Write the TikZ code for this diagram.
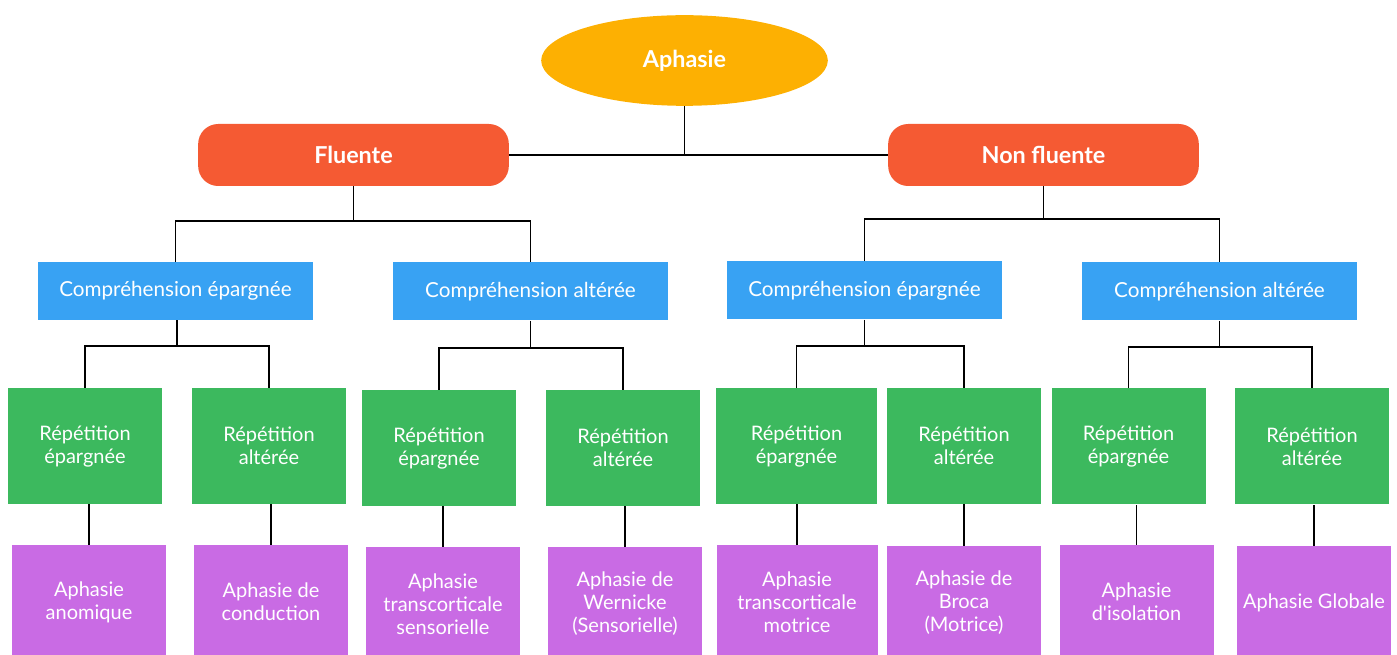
\documentclass[tikz,border=0pt]{standalone}
\usepackage{fontspec}
\setmainfont{Lato}[Ligatures=TeXOff]
\definecolor{aphcol}{HTML}{FDB002}
\definecolor{flucol}{HTML}{F55A33}
\definecolor{compcol}{HTML}{38A2F3}
\definecolor{repcol}{HTML}{3CB95E}
\definecolor{typcol}{HTML}{C96BE4}
\usetikzlibrary{shapes.geometric}
\tikzset{
	root/.style={ellipse, fill=aphcol, text=white, font=\bfseries\fontsize{17.5}{20}\selectfont, minimum width=215pt, minimum height=68pt},
	branch/.style={rounded corners=15pt, fill=flucol, text=white, font=\bfseries\fontsize{17.5}{20}\selectfont, minimum width=233pt, minimum height=46.5pt},
	comp/.style={fill=compcol, text=white, font=\fontsize{15.5}{18}\selectfont, minimum width=206pt, minimum height=43.5pt},
	rep/.style={fill=repcol, text=white, font=\fontsize{15}{17.25}\selectfont, align=center, minimum width=115.5pt, minimum height=87pt},
	typ/.style={fill=typcol, text=white, font=\fontsize{15}{17.25}\selectfont, align=center, minimum width=115.5pt, minimum height=85.5pt},
	link/.style={black, line width=1.4pt}
}
\begin{document}
\begin{tikzpicture}[x=0.75pt, y=-0.75pt, inner sep=0pt]
		\useasboundingbox (0,0) rectangle (1397,655);
		\node[root] at (684.5, 60.5) (aph) {Aphasie};
		\node[branch] at (353.5, 155) (flu) {Fluente};
		\node[branch] at (1043.5, 155) (nflu) {Non fluente};
		\node[comp] at (175.5, 291) (ce1) {Compréhension épargnée};
		\node[comp] at (530.5, 291.5) (ca1) {Compréhension altérée};
		\node[comp] at (864.5, 290.5) (ce2) {Compréhension épargnée};
		\node[comp] at (1219.5, 291.5) (ca2) {Compréhension altérée};
		\node[rep] at (85, 446) (r1) {Répétition\\épargnée};
		\node[rep] at (269, 446) (r2) {Répétition\\altérée};
		\node[rep] at (439, 448) (r3) {Répétition\\épargnée};
		\node[rep] at (623, 448) (r4) {Répétition\\altérée};
		\node[rep, minimum width=120.75pt] at (796.5, 446) (r5) {Répétition\\épargnée};
		\node[rep] at (964, 446) (r6) {Répétition\\altérée};
		\node[rep] at (1128.5, 446.5) (r7) {Répétition\\épargnée};
		\node[rep] at (1312, 446.5) (r8) {Répétition\\altérée};
		\node[typ] at (89, 602) (a1) {Aphasie\\anomique};
		\node[typ] at (271, 602) (a2) {Aphasie de\\conduction};
		\node[typ] at (443, 604) (a3) {Aphasie\\transcorticale\\sensorielle};
		\node[typ] at (625, 604) (a4) {Aphasie de\\Wernicke\\(Sensorielle)};
		\node[typ, minimum width=120.75pt] at (797, 602) (a5) {Aphasie\\transcorticale\\motrice};
		\node[typ] at (964, 603) (a6) {Aphasie de\\Broca\\(Motrice)};
		\node[typ] at (1136.5, 602) (a7) {Aphasie\\d'isolation};
		\node[typ] at (1314, 603) (a8) {Aphasie Globale};
		% junctions of the tree
		\coordinate (bf) at (353.5, 221);
		\coordinate (bn) at (1043.5, 219);
		\coordinate (b1) at (177, 346);
		\coordinate (b2) at (530.5, 348);
		\coordinate (b3) at (864.5, 346);
		\coordinate (b4) at (1219.5, 347);
		\draw [link] (flu) -- (nflu);
		\draw [link] (aph) -- (aph |- flu);
		\draw [link] (flu) -- (bf);
		\draw [link] (ce1) |- (bf) -| (ca1);
		\draw [link] (nflu) -- (bn);
		\draw [link] (ce2) |- (bn) -| (ca2);
		\draw [link] (ce1.south -| b1) -- (b1);
		\draw [link] (r1) |- (b1) -| (r2);
		\draw [link] (ca1) -- (b2);
		\draw [link] (r3) |- (b2) -| (r4);
		\draw [link] (ce2) -- (b3);
		\draw [link] (r5) |- (b3) -| (r6);
		\draw [link] (ca2) -- (b4);
		\draw [link] (r7) |- (b4) -| (r8);
		\draw [link] (a1) -- (a1 |- r1.south);
		\draw [link] (a2) -- (a2 |- r2.south);
		\draw [link] (a3) -- (a3 |- r3.south);
		\draw [link] (a4) -- (a4 |- r4.south);
		\draw [link] (a5) -- (a5 |- r5.south);
		\draw [link] (a6) -- (a6 |- r6.south);
		\draw [link] (a7) -- (a7 |- r7.south);
		\draw [link] (a8) -- (a8 |- r8.south);
	\end{tikzpicture}
\end{document}
